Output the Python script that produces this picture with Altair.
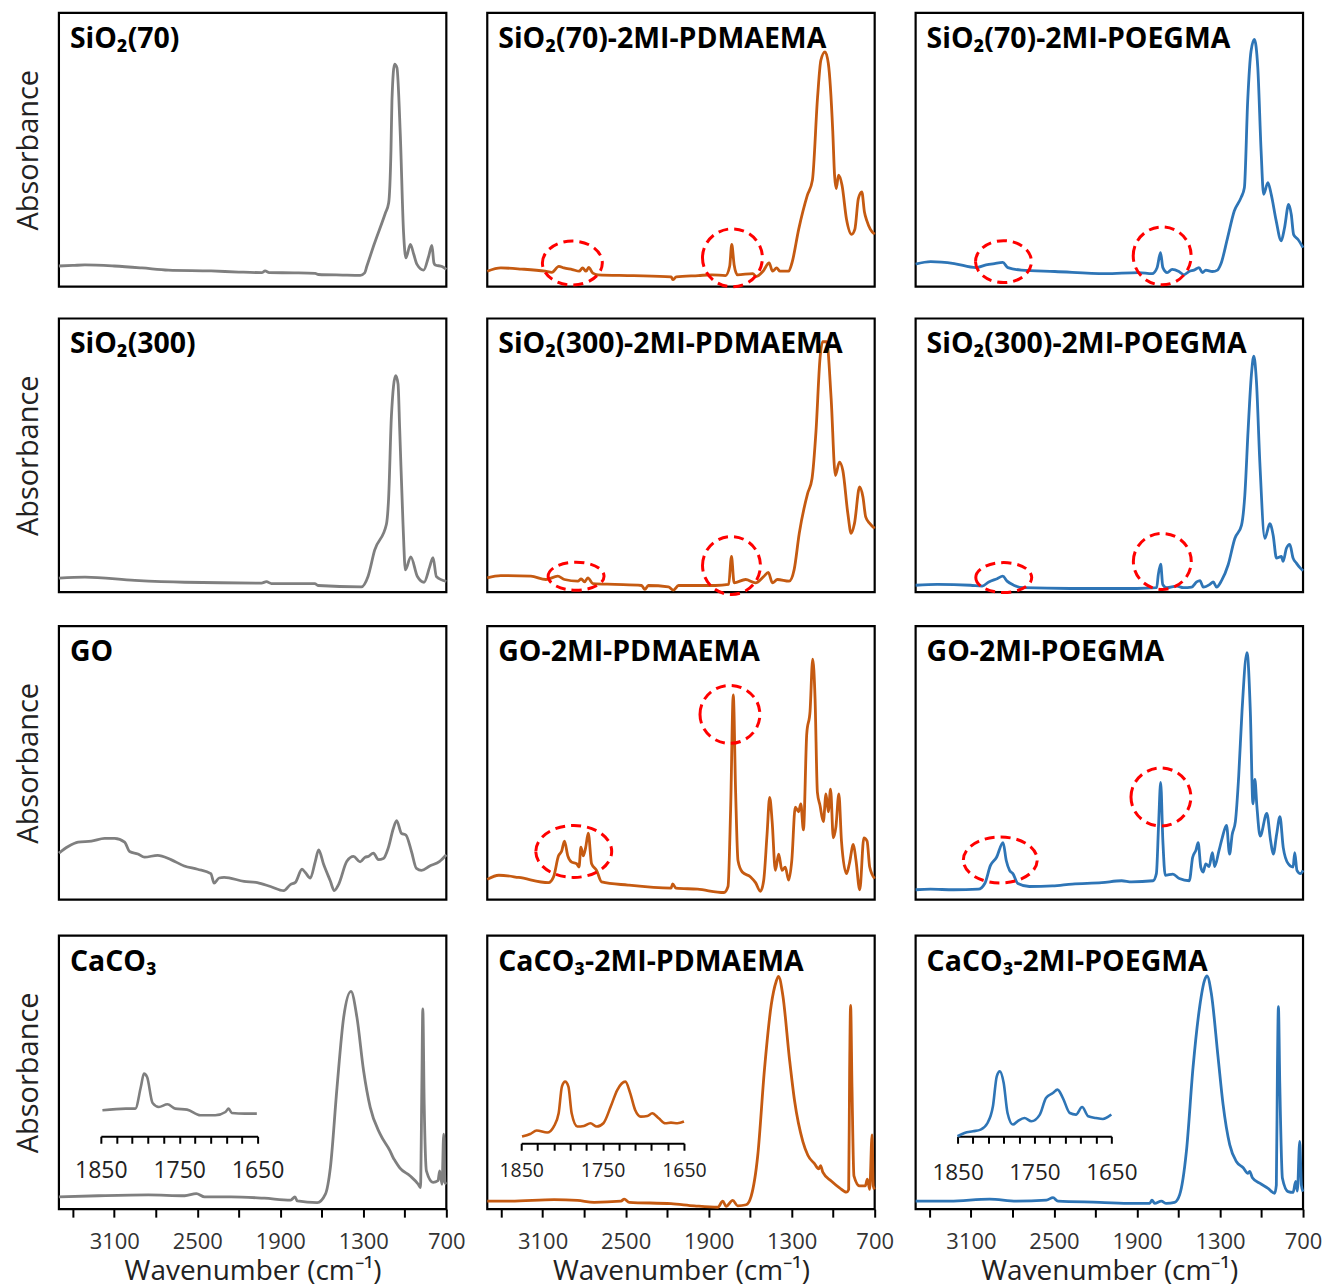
import altair as alt
import pandas as pd

# ---------------- data (wavenumber, cm-1 ; absorbance, normalised to panel) ----------------
sio2_70_wn = [3500, 3400, 3312, 3100, 2900, 2709, 2400, 2200, 2034, 2010, 1980, 1800, 1648, 1624, 1450, 1322, 1290, 1274, 1226, 1141,
              1117, 1100, 1093, 1074, 1057, 1033, 1009, 992, 960, 935, 912, 864, 828, 804, 790, 780, 731, 700]
sio2_70_ab = [0.075, 0.077, 0.079, 0.075, 0.068, 0.060, 0.057, 0.053, 0.051, 0.057, 0.051, 0.050, 0.048, 0.044, 0.042, 0.041, 0.050, 0.075, 0.148, 0.268,
              0.305, 0.500, 0.680, 0.813, 0.800, 0.560, 0.196, 0.105, 0.154, 0.117, 0.081, 0.060, 0.110, 0.150, 0.087, 0.079, 0.073, 0.063]

sio2_70_pd_wn = [3500, 3402, 3254, 3082, 3033, 2983, 2946, 2885, 2836, 2811, 2786, 2767, 2737, 2700, 2442, 2171, 2159, 2134, 1975, 1876,
                 1778, 1748, 1733, 1716, 1692, 1581, 1556, 1507, 1463, 1438, 1409, 1384, 1322, 1298, 1249, 1187, 1150, 1113, 1089, 1059,
                 1035, 1003, 990, 978, 961, 936, 904, 867, 843, 818, 793, 774, 757, 732, 700]
sio2_70_pd_ab = [0.056, 0.068, 0.064, 0.056, 0.052, 0.074, 0.068, 0.062, 0.056, 0.068, 0.056, 0.070, 0.049, 0.043, 0.040, 0.035, 0.025, 0.035, 0.040, 0.043,
                 0.040, 0.074, 0.154, 0.080, 0.043, 0.047, 0.037, 0.056, 0.086, 0.056, 0.068, 0.056, 0.056, 0.086, 0.210, 0.333, 0.389, 0.691, 0.827, 0.858,
                 0.815, 0.568, 0.407, 0.358, 0.407, 0.370, 0.247, 0.191, 0.210, 0.321, 0.346, 0.272, 0.241, 0.210, 0.191]

sio2_70_po_wn = [3500, 3391, 3221, 3064, 2991, 2930, 2870, 2833, 2736, 2494, 2130, 1888, 1791, 1755, 1730, 1713, 1682, 1646, 1597, 1561,
                 1524, 1488, 1452, 1427, 1403, 1355, 1318, 1294, 1245, 1197, 1148, 1124, 1100, 1076, 1052, 1027, 1003, 985, 954, 930,
                 894, 858, 834, 804, 785, 768, 736, 700]
sio2_70_po_ab = [0.082, 0.091, 0.084, 0.069, 0.079, 0.084, 0.088, 0.069, 0.060, 0.055, 0.047, 0.051, 0.047, 0.069, 0.124, 0.069, 0.051, 0.063, 0.055, 0.043,
                 0.055, 0.060, 0.069, 0.051, 0.060, 0.055, 0.060, 0.082, 0.179, 0.276, 0.325, 0.361, 0.678, 0.860, 0.903, 0.800, 0.495, 0.337, 0.380, 0.337,
                 0.240, 0.167, 0.214, 0.300, 0.263, 0.190, 0.172, 0.142]

sio2_300_wn = [3500, 3312, 2951, 2590, 2036, 2000, 1964, 1651, 1627, 1314, 1266, 1218, 1133, 1117, 1097, 1066, 1049, 1037, 1013, 996,
               957, 909, 861, 820, 796, 772, 700]
sio2_300_ab = [0.051, 0.055, 0.043, 0.036, 0.033, 0.038, 0.031, 0.031, 0.024, 0.019, 0.057, 0.153, 0.248, 0.344, 0.642, 0.791, 0.761, 0.595, 0.248, 0.081,
               0.129, 0.057, 0.036, 0.093, 0.126, 0.057, 0.039]

sio2_300_pd_wn = [3500, 3403, 3185, 3076, 2991, 2942, 2845, 2821, 2797, 2773, 2736, 2579, 2385, 2361, 2336, 2191, 2155, 2118, 1852, 1755,
                  1735, 1716, 1633, 1561, 1500, 1469, 1439, 1403, 1318, 1282, 1245, 1185, 1153, 1124, 1095, 1076, 1047, 1015, 984, 955,
                  930, 894, 870, 846, 809, 785, 765, 736, 700]
sio2_300_pd_ab = [0.052, 0.060, 0.058, 0.046, 0.058, 0.046, 0.040, 0.048, 0.037, 0.052, 0.031, 0.028, 0.024, 0.010, 0.024, 0.019, 0.007, 0.024, 0.024, 0.028,
                  0.130, 0.034, 0.046, 0.034, 0.058, 0.072, 0.034, 0.046, 0.040, 0.082, 0.215, 0.360, 0.414, 0.589, 0.855, 0.915, 0.915, 0.710, 0.426, 0.475,
                  0.444, 0.287, 0.215, 0.251, 0.384, 0.348, 0.275, 0.251, 0.233]

sio2_300_po_wn = [3500, 3344, 3103, 3019, 2971, 2911, 2870, 2839, 2791, 2719, 2382, 1902, 1758, 1746, 1729, 1714, 1685, 1613, 1565, 1505,
                  1469, 1445, 1421, 1373, 1349, 1325, 1289, 1241, 1193, 1145, 1121, 1097, 1073, 1056, 1037, 1012, 976, 940, 916, 892,
                  856, 844, 820, 796, 772, 748, 724, 700]
sio2_300_po_ab = [0.025, 0.028, 0.025, 0.022, 0.037, 0.049, 0.058, 0.040, 0.025, 0.016, 0.013, 0.013, 0.016, 0.064, 0.102, 0.028, 0.016, 0.022, 0.016, 0.018,
                  0.037, 0.042, 0.018, 0.028, 0.037, 0.018, 0.042, 0.100, 0.196, 0.244, 0.352, 0.592, 0.796, 0.862, 0.772, 0.472, 0.196, 0.250, 0.208, 0.124,
                  0.130, 0.112, 0.160, 0.174, 0.124, 0.106, 0.090, 0.078]

go_wn = [3500, 3433, 3361, 3265, 3169, 3097, 3025, 2989, 2929, 2881, 2786, 2690, 2594, 2498, 2402, 2378, 2342, 2306, 2162, 2066,
         1971, 1875, 1827, 1791, 1743, 1719, 1683, 1647, 1623, 1587, 1539, 1510, 1479, 1419, 1371, 1323, 1287, 1263, 1227, 1191,
         1155, 1119, 1083, 1059, 1024, 992, 952, 916, 880, 820, 748, 700]
go_ab = [0.170, 0.194, 0.210, 0.214, 0.224, 0.224, 0.210, 0.176, 0.167, 0.155, 0.162, 0.146, 0.123, 0.111, 0.095, 0.060, 0.079, 0.081, 0.067, 0.062,
         0.048, 0.033, 0.055, 0.063, 0.111, 0.099, 0.079, 0.140, 0.182, 0.129, 0.069, 0.033, 0.055, 0.140, 0.158, 0.138, 0.155, 0.158, 0.170, 0.146,
         0.150, 0.190, 0.260, 0.289, 0.242, 0.236, 0.176, 0.114, 0.107, 0.123, 0.140, 0.164]

go_pd_wn = [3500, 3416, 3273, 3057, 3021, 2985, 2962, 2942, 2918, 2890, 2854, 2837, 2823, 2806, 2789, 2770, 2746, 2710, 2674, 2483,
            2172, 2160, 2136, 1980, 1789, 1760, 1741, 1722, 1705, 1688, 1657, 1597, 1561, 1526, 1502, 1478, 1459, 1441, 1418, 1394,
            1370, 1346, 1322, 1299, 1274, 1250, 1234, 1215, 1191, 1167, 1148, 1131, 1114, 1095, 1071, 1052, 1035, 1019, 999, 980,
            959, 940, 904, 883, 854, 835, 808, 778, 755, 736, 700]
go_pd_ab = [0.074, 0.089, 0.081, 0.062, 0.083, 0.160, 0.178, 0.214, 0.160, 0.137, 0.131, 0.119, 0.192, 0.160, 0.190, 0.243, 0.131, 0.107, 0.065, 0.053,
            0.042, 0.057, 0.042, 0.038, 0.026, 0.048, 0.333, 0.748, 0.392, 0.143, 0.101, 0.083, 0.062, 0.030, 0.071, 0.238, 0.374, 0.285, 0.107, 0.166,
            0.107, 0.119, 0.071, 0.143, 0.338, 0.321, 0.350, 0.255, 0.606, 0.689, 0.879, 0.736, 0.392, 0.344, 0.285, 0.386, 0.321, 0.404, 0.226, 0.267,
            0.386, 0.214, 0.095, 0.131, 0.202, 0.143, 0.036, 0.226, 0.214, 0.119, 0.077]

go_po_wn = [3500, 3393, 3226, 3047, 3000, 2959, 2916, 2868, 2845, 2821, 2797, 2761, 2678, 2511, 2368, 2154, 2011, 1939, 1784, 1760,
            1744, 1729, 1713, 1696, 1641, 1594, 1522, 1498, 1474, 1458, 1439, 1422, 1403, 1379, 1355, 1339, 1308, 1284, 1253, 1231,
            1212, 1189, 1165, 1141, 1105, 1081, 1062, 1048, 1034, 1010, 962, 934, 915, 891, 867, 843, 807, 772, 760, 744,
            719, 700]
go_po_ab = [0.036, 0.038, 0.036, 0.038, 0.059, 0.125, 0.154, 0.208, 0.143, 0.107, 0.095, 0.059, 0.048, 0.050, 0.057, 0.062, 0.069, 0.065, 0.069, 0.095,
            0.273, 0.428, 0.214, 0.089, 0.093, 0.077, 0.069, 0.154, 0.181, 0.208, 0.119, 0.101, 0.131, 0.121, 0.172, 0.121, 0.178, 0.226, 0.271, 0.166,
            0.238, 0.285, 0.451, 0.689, 0.903, 0.689, 0.350, 0.439, 0.344, 0.232, 0.315, 0.214, 0.166, 0.238, 0.303, 0.190, 0.131, 0.119, 0.172, 0.107,
            0.095, 0.107]

caco3_wn = [3500, 3213, 2854, 2591, 2507, 2447, 2256, 2016, 1825, 1794, 1777, 1633, 1574, 1538, 1490, 1442, 1389, 1346, 1298, 1250,
            1178, 1107, 1083, 1071, 1035, 963, 903, 887, 877, 870, 860, 844, 796, 760, 748, 731, 719, 710, 700]
caco3_ab = [0.045, 0.049, 0.052, 0.049, 0.057, 0.045, 0.045, 0.040, 0.033, 0.045, 0.030, 0.024, 0.055, 0.152, 0.445, 0.701, 0.796, 0.701, 0.506, 0.372,
            0.274, 0.213, 0.187, 0.177, 0.150, 0.122, 0.091, 0.079, 0.445, 0.732, 0.384, 0.140, 0.098, 0.104, 0.140, 0.091, 0.274, 0.098, 0.091]

caco3_pd_wn = [3500, 3331, 3017, 2848, 2728, 2534, 2510, 2474, 2172, 2003, 1834, 1798, 1774, 1726, 1690, 1629, 1593, 1545, 1497, 1448,
               1412, 1395, 1364, 1315, 1279, 1219, 1183, 1135, 1105, 1091, 1074, 1014, 954, 905, 888, 881, 874, 864, 850, 809,
               768, 753, 736, 719, 710, 700]
caco3_pd_ab = [0.029, 0.029, 0.035, 0.032, 0.025, 0.029, 0.037, 0.025, 0.020, 0.012, 0.007, 0.029, 0.010, 0.032, 0.012, 0.016, 0.047, 0.197, 0.508, 0.745,
               0.832, 0.851, 0.782, 0.545, 0.396, 0.247, 0.197, 0.166, 0.147, 0.159, 0.134, 0.103, 0.078, 0.062, 0.072, 0.508, 0.745, 0.446, 0.122, 0.085,
               0.085, 0.110, 0.072, 0.271, 0.085, 0.072]

caco3_po_wn = [3500, 3254, 2965, 2772, 2555, 2507, 2471, 2170, 1929, 1808, 1792, 1772, 1724, 1688, 1628, 1592, 1543, 1495, 1447, 1411,
               1394, 1363, 1314, 1278, 1230, 1182, 1134, 1098, 1086, 1066, 1013, 953, 905, 893, 885, 878, 868, 849, 808, 772,
               753, 741, 724, 712, 700]
caco3_po_ab = [0.029, 0.029, 0.037, 0.029, 0.033, 0.042, 0.029, 0.025, 0.021, 0.021, 0.033, 0.021, 0.029, 0.021, 0.025, 0.052, 0.211, 0.518, 0.740, 0.838,
               0.853, 0.789, 0.555, 0.383, 0.236, 0.174, 0.152, 0.131, 0.138, 0.115, 0.095, 0.076, 0.058, 0.088, 0.518, 0.740, 0.457, 0.113, 0.064, 0.061,
               0.101, 0.066, 0.248, 0.088, 0.064]

# insets (1850-1650 cm-1)
caco3_in_wn = [1848, 1818, 1806, 1799, 1795, 1791, 1784, 1776, 1765, 1755, 1740, 1723, 1704, 1691, 1687, 1683, 1666, 1651]
caco3_in_ab = [0.26, 0.277, 0.277, 0.493, 0.627, 0.593, 0.333, 0.293, 0.32, 0.277, 0.267, 0.21, 0.21, 0.243, 0.277, 0.233, 0.227, 0.227]

caco3_pd_in_wn = [1849, 1839, 1831, 1818, 1810, 1804, 1800, 1796, 1792, 1788, 1781, 1773, 1765, 1757, 1749, 1740, 1732, 1722, 1716, 1710,
                  1703, 1695, 1689, 1681, 1673, 1666, 1658, 1650]
caco3_pd_in_ab = [0.067, 0.093, 0.127, 0.107, 0.167, 0.3, 0.567, 0.617, 0.567, 0.3, 0.167, 0.173, 0.2, 0.167, 0.2, 0.367, 0.533, 0.617, 0.5, 0.333,
                  0.267, 0.273, 0.3, 0.25, 0.2, 0.207, 0.2, 0.217]

caco3_po_in_wn = [1850, 1841, 1830, 1820, 1811, 1804, 1799, 1795, 1790, 1785, 1778, 1772, 1763, 1754, 1743, 1735, 1726, 1720, 1713, 1704,
                  1696, 1688, 1680, 1670, 1661, 1650]
caco3_po_in_ab = [0.0, 0.033, 0.05, 0.067, 0.133, 0.3, 0.6, 0.65, 0.533, 0.233, 0.117, 0.15, 0.183, 0.15, 0.217, 0.383, 0.433, 0.467, 0.383, 0.233,
                  0.217, 0.293, 0.2, 0.183, 0.173, 0.217]

titles = ["SiO₂(70)", "SiO₂(70)-2MI-PDMAEMA", "SiO₂(70)-2MI-POEGMA",
          "SiO₂(300)", "SiO₂(300)-2MI-PDMAEMA", "SiO₂(300)-2MI-POEGMA",
          "GO", "GO-2MI-PDMAEMA", "GO-2MI-POEGMA",
          "CaCO₃", "CaCO₃-2MI-PDMAEMA", "CaCO₃-2MI-POEGMA"]

main_ticks = [3400, 3100, 2800, 2500, 2200, 1900, 1600, 1300, 1000, 700]
inset_ticks = [1850, 1830, 1810, 1790, 1770, 1750, 1730, 1710, 1690, 1670, 1650]

# highlighted regions (centre wavenumber, centre absorbance)
ell_sio2_70_pd = [(2885, 0.086), (1728, 0.105)]
ell_sio2_70_po = [(2865, 0.091), (1718, 0.112)]
ell_sio2_300_pd = [(2858, 0.058), (1735, 0.097)]
ell_sio2_300_po = [(2863, 0.053), (1717, 0.112)]
ell_go_pd = [(2875, 0.176), (1746, 0.677)]
ell_go_po = [(2888, 0.145), (1727, 0.375)]

# ---------------- styling ----------------
W, H = 388, 274
FONT = "Open Sans"
GREY, ORANGE, BLUE = "#7f7f7f", "#c55a11", "#2e75b6"
XSCALE = alt.Scale(domain=[3500, 700], nice=False, zero=False)
YSCALE = alt.Scale(domain=[0, 1], nice=False, zero=False)
# ellipse radii in px (rx, ry) for the two annotations in each panel
ELL_SIZES = {
    "sio2_70_pd": [(30, 22), (30, 29)],
    "sio2_70_po": [(28, 21), (29, 29)],
    "sio2_300_pd": [(28, 14), (29, 29)],
    "sio2_300_po": [(28, 15), (29, 28)],
    "go_pd": [(38, 26), (30, 29)],
    "go_po": [(37, 23), (30, 29)],
}


def y_axis(show):
    if not show:
        return None
    return alt.Axis(title="Absorbance", labels=False, ticks=False, domain=False, grid=False,
                    titleFont=FONT, titleFontSize=29, titleFontWeight="normal", titleColor="#222",
                    titlePadding=15, minExtent=0)


def x_axis(show):
    if not show:
        return None
    return alt.Axis(values=main_ticks, format="d",
                    labelExpr="datum.value % 600 == 100 ? datum.label : ''",
                    labelFont=FONT, labelFontSize=22, labelColor="#333", labelPadding=14,
                    labelFlush=False, labelOverlap=False, labelBound=False,
                    ticks=True, tickSize=8, tickWidth=2, tickColor="black", domain=False, grid=False,
                    title="Wavenumber (cm⁻¹)", titleFont=FONT, titleFontSize=28, titleFontWeight="normal",
                    titleColor="#222", titlePadding=5)


def ellipse(c, size):
    wn, ab = c
    rx, ry = size
    r = ry / rx
    path = f"M-1,0A1,{r:.3f} 0 1,1 1,0A1,{r:.3f} 0 1,1 -1,0Z"
    return alt.Chart(pd.DataFrame({"wn": [wn], "ab": [ab]})).mark_point(
        shape=path, size=(2 * rx) ** 2, filled=False, stroke="#ff0000", strokeWidth=3,
        strokeDash=[10, 6], opacity=1, strokeOpacity=1
    ).encode(x=alt.X("wn:Q", scale=XSCALE, axis=None), y=alt.Y("ab:Q", scale=YSCALE, axis=None))


def panel(title, wn, ab, color, ells=None, ell_key=None, ytitle=False, bottom=False, inset=None):
    df = pd.DataFrame({"wn": wn, "ab": ab})
    layers = [alt.Chart(df).mark_line(color=color, strokeWidth=2.8, interpolate="monotone").encode(
        x=alt.X("wn:Q", scale=XSCALE, axis=x_axis(bottom)),
        y=alt.Y("ab:Q", scale=YSCALE, axis=y_axis(ytitle)))]
    if ells:
        for c, s in zip(ells, ELL_SIZES[ell_key]):
            layers.append(ellipse(c, s))
    if inset is not None:
        iwn, iab, x0, x1, ay, lpad, lsize = inset
        idf = pd.DataFrame({"wn": iwn, "ab": iab})
        layers.append(alt.Chart(idf).mark_line(color=color, strokeWidth=2.6, interpolate="monotone").encode(
            x=alt.X("wn:Q", scale=alt.Scale(domain=[1850, 1650], range=[x0, x1], nice=False, zero=False),
                    axis=alt.Axis(values=inset_ticks, format="d", orient="bottom", offset=ay - H,
                                  labelExpr="datum.value % 100 == 50 ? datum.label : ''",
                                  labelFont=FONT, labelFontSize=lsize, labelColor="#222", labelPadding=lpad,
                                  labelFlush=False, labelOverlap=False, labelBound=False,
                                  tickSize=7, tickWidth=2, tickColor="black",
                                  domain=True, domainColor="black", domainWidth=2.2,
                                  grid=False, title=None)),
            y=alt.Y("ab:Q", scale=alt.Scale(domain=[0, 1], range=[ay, ay - 100], nice=False, zero=False), axis=None)))
    tdf = pd.DataFrame({"label": [title]})
    layers.append(alt.Chart(tdf).mark_text(align="left", baseline="alphabetic", font=FONT, fontSize=28.5,
                                           fontWeight="bold", color="black").encode(
        text="label:N", x=alt.value(11), y=alt.value(35)))
    ch = alt.layer(*layers).properties(width=W, height=H)
    if inset is not None:
        ch = ch.resolve_scale(x="independent", y="independent")
    return ch


row1 = alt.hconcat(
    panel(titles[0], sio2_70_wn, sio2_70_ab, GREY, ytitle=True),
    panel(titles[1], sio2_70_pd_wn, sio2_70_pd_ab, ORANGE, ell_sio2_70_pd, "sio2_70_pd"),
    panel(titles[2], sio2_70_po_wn, sio2_70_po_ab, BLUE, ell_sio2_70_po, "sio2_70_po"),
    spacing=41, bounds="flush")
row2 = alt.hconcat(
    panel(titles[3], sio2_300_wn, sio2_300_ab, GREY, ytitle=True),
    panel(titles[4], sio2_300_pd_wn, sio2_300_pd_ab, ORANGE, ell_sio2_300_pd, "sio2_300_pd"),
    panel(titles[5], sio2_300_po_wn, sio2_300_po_ab, BLUE, ell_sio2_300_po, "sio2_300_po"),
    spacing=41, bounds="flush")
row3 = alt.hconcat(
    panel(titles[6], go_wn, go_ab, GREY, ytitle=True),
    panel(titles[7], go_pd_wn, go_pd_ab, ORANGE, ell_go_pd, "go_pd"),
    panel(titles[8], go_po_wn, go_po_ab, BLUE, ell_go_po, "go_po"),
    spacing=41, bounds="flush")
row4 = alt.hconcat(
    panel(titles[9], caco3_wn, caco3_ab, GREY, ytitle=True, bottom=True,
          inset=(caco3_in_wn, caco3_in_ab, 42, 199, 201, 16, 23)),
    panel(titles[10], caco3_pd_wn, caco3_pd_ab, ORANGE, bottom=True,
          inset=(caco3_pd_in_wn, caco3_pd_in_ab, 34, 197, 208, 11, 19.5)),
    panel(titles[11], caco3_po_wn, caco3_po_ab, BLUE, bottom=True,
          inset=(caco3_po_in_wn, caco3_po_in_ab, 42, 196, 201, 18, 22.5)),
    spacing=41, bounds="flush")

top3 = alt.vconcat(row1, row2, row3, spacing=22)
chart = alt.vconcat(top3, row4, spacing=32).properties(
    padding={"left": 13, "top": 10, "right": 5, "bottom": 0}
).configure_view(stroke="black", strokeWidth=2.2).configure_axis(grid=False)

chart.save("out.html", embed_options={"renderer": "svg", "actions": False})
